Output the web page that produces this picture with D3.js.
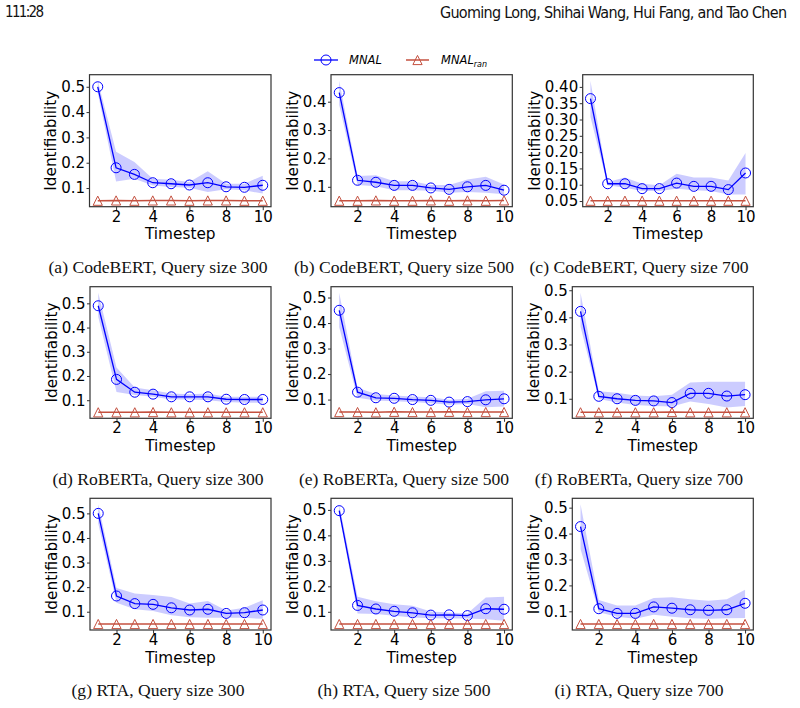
<!DOCTYPE html>
<html>
<head>
<meta charset="utf-8">
<script src="https://cdn.jsdelivr.net/npm/d3@7"></script>
<style>
  body { margin: 0; background: #fff; }
  svg { display: block; }
</style>
</head>
<body>
<div class="fig"></div>
<script>
// Data
const timesteps = [1, 2, 3, 4, 5, 6, 7, 8, 9, 10];

const captions = [
  "(a) CodeBERT, Query size 300", "(b) CodeBERT, Query size 500", "(c) CodeBERT, Query size 700",
  "(d) RoBERTa, Query size 300", "(e) RoBERTa, Query size 500", "(f) RoBERTa, Query size 700",
  "(g) RTA, Query size 300", "(h) RTA, Query size 500", "(i) RTA, Query size 700"
];

// MNAL mean per panel (a..i)
const mnalMean = [
  [0.500, 0.180, 0.154, 0.121, 0.117, 0.112, 0.121, 0.105, 0.103, 0.111],
  [0.432, 0.123, 0.116, 0.105, 0.105, 0.096, 0.091, 0.100, 0.105, 0.088],
  [0.364, 0.103, 0.103, 0.088, 0.088, 0.105, 0.095, 0.095, 0.085, 0.136],
  [0.490, 0.186, 0.133, 0.125, 0.114, 0.114, 0.114, 0.104, 0.103, 0.103],
  [0.450, 0.129, 0.107, 0.105, 0.100, 0.097, 0.090, 0.092, 0.099, 0.103],
  [0.422, 0.109, 0.100, 0.094, 0.092, 0.086, 0.120, 0.120, 0.110, 0.115],
  [0.500, 0.164, 0.133, 0.130, 0.116, 0.107, 0.110, 0.093, 0.096, 0.107],
  [0.497, 0.125, 0.111, 0.102, 0.096, 0.087, 0.088, 0.085, 0.112, 0.110],
  [0.427, 0.110, 0.092, 0.092, 0.117, 0.112, 0.106, 0.104, 0.106, 0.131]
];

// shaded band, lower edge
const mnalLow = [
  [0.476, 0.126, 0.137, 0.110, 0.104, 0.101, 0.084, 0.095, 0.091, 0.078],
  [0.388, 0.106, 0.102, 0.088, 0.088, 0.086, 0.079, 0.082, 0.079, 0.074],
  [0.308, 0.098, 0.091, 0.081, 0.081, 0.088, 0.083, 0.081, 0.070, 0.070],
  [0.445, 0.134, 0.121, 0.114, 0.103, 0.103, 0.100, 0.093, 0.090, 0.090],
  [0.383, 0.107, 0.096, 0.093, 0.090, 0.086, 0.080, 0.083, 0.070, 0.073],
  [0.365, 0.099, 0.086, 0.077, 0.073, 0.071, 0.090, 0.081, 0.068, 0.073],
  [0.459, 0.137, 0.110, 0.103, 0.086, 0.078, 0.075, 0.075, 0.075, 0.071],
  [0.483, 0.093, 0.091, 0.084, 0.078, 0.075, 0.074, 0.074, 0.071, 0.065],
  [0.340, 0.096, 0.079, 0.071, 0.087, 0.079, 0.073, 0.071, 0.073, 0.074]
];

// shaded band, upper edge
const mnalHigh = [
  [0.524, 0.243, 0.203, 0.137, 0.133, 0.124, 0.166, 0.117, 0.117, 0.149],
  [0.474, 0.138, 0.141, 0.120, 0.120, 0.106, 0.106, 0.126, 0.135, 0.108],
  [0.419, 0.108, 0.122, 0.103, 0.098, 0.134, 0.122, 0.122, 0.113, 0.197],
  [0.544, 0.235, 0.152, 0.141, 0.128, 0.125, 0.128, 0.114, 0.114, 0.114],
  [0.519, 0.146, 0.122, 0.116, 0.112, 0.109, 0.099, 0.103, 0.133, 0.135],
  [0.491, 0.128, 0.122, 0.112, 0.109, 0.115, 0.160, 0.163, 0.163, 0.163],
  [0.537, 0.196, 0.174, 0.168, 0.160, 0.133, 0.144, 0.105, 0.116, 0.147],
  [0.522, 0.159, 0.141, 0.130, 0.124, 0.101, 0.097, 0.093, 0.156, 0.159],
  [0.513, 0.144, 0.122, 0.122, 0.151, 0.154, 0.147, 0.141, 0.147, 0.183]
];

// MNAL_ran per panel
const mnalRan = [
  [0.050, 0.051, 0.050, 0.051, 0.051, 0.050, 0.051, 0.051, 0.050, 0.050],
  [0.051, 0.051, 0.052, 0.051, 0.051, 0.052, 0.051, 0.052, 0.051, 0.052],
  [0.051, 0.051, 0.051, 0.051, 0.051, 0.051, 0.051, 0.051, 0.051, 0.051],
  [0.050, 0.050, 0.050, 0.051, 0.050, 0.050, 0.050, 0.050, 0.050, 0.050],
  [0.051, 0.051, 0.050, 0.052, 0.051, 0.051, 0.052, 0.051, 0.051, 0.051],
  [0.050, 0.050, 0.050, 0.050, 0.050, 0.051, 0.050, 0.050, 0.050, 0.050],
  [0.050, 0.050, 0.050, 0.050, 0.050, 0.050, 0.050, 0.050, 0.050, 0.050],
  [0.052, 0.052, 0.052, 0.052, 0.052, 0.052, 0.052, 0.052, 0.052, 0.052],
  [0.051, 0.051, 0.051, 0.051, 0.051, 0.051, 0.051, 0.051, 0.051, 0.051]
];

const yTicks = [
  [0.1, 0.2, 0.3, 0.4, 0.5],
  [0.1, 0.2, 0.3, 0.4],
  [0.05, 0.10, 0.15, 0.20, 0.25, 0.30, 0.35, 0.40],
  [0.1, 0.2, 0.3, 0.4, 0.5],
  [0.1, 0.2, 0.3, 0.4, 0.5],
  [0.1, 0.2, 0.3, 0.4, 0.5],
  [0.1, 0.2, 0.3, 0.4, 0.5],
  [0.1, 0.2, 0.3, 0.4, 0.5],
  [0.1, 0.2, 0.3, 0.4, 0.5]
];
const yFormats = [".1f", ".1f", ".2f", ".1f", ".1f", ".1f", ".1f", ".1f", ".1f"];
const xTicks = [2, 4, 6, 8, 10];

// Layout
const W = 800, H = 708;
const rowTop = [74.7, 286.7, 498.3];
const rowBottom = [206.7, 418.3, 630];
const colRight = [271, 512.3, 753.3];
const panelLeft = [[89.5, 331, 582.7], [90, 331, 572.3], [90, 331, 572.3]];
const captionX = [158, 404, 639];
const captionY = [273, 485, 696];

const blue = "#0000ff";
const red = "#c4503f";
const tickFont = "'DejaVu Sans', sans-serif";

const svg = d3.select(".fig").append("svg")
  .attr("width", W)
  .attr("height", H);

// Running head
svg.append("text")
  .attr("x", 5).attr("y", 17)
  .attr("font-family", "'Liberation Sans Narrow', 'DejaVu Sans Condensed', sans-serif")
  .attr("font-size", 15)
  .attr("textLength", 39)
  .attr("fill", "#111")
  .text("111:28");

svg.append("text")
  .attr("x", 440).attr("y", 18)
  .attr("font-family", "'Liberation Sans Narrow', 'DejaVu Sans Condensed', sans-serif")
  .attr("font-size", 16)
  .attr("textLength", 347)
  .attr("fill", "#111")
  .text("Guoming Long, Shihai Wang, Hui Fang, and Tao Chen");

// Legend
const triPath = s => `M0,${-s}L${s},${s}L${-s},${s}Z`;
const legend = svg.append("g").attr("transform", "translate(0,60)");
legend.append("line").attr("x1", 314).attr("x2", 338).attr("stroke", blue).attr("stroke-width", 1.3);
legend.append("circle").attr("cx", 326).attr("r", 5).attr("fill", "none").attr("stroke", blue).attr("stroke-width", 1);
legend.append("text").attr("x", 349).attr("y", 4)
  .attr("font-family", tickFont).attr("font-style", "italic").attr("font-size", 11.5)
  .text("MNAL");
legend.append("line").attr("x1", 406).attr("x2", 429).attr("stroke", red).attr("stroke-width", 1.5);
legend.append("path").attr("d", triPath(4.6)).attr("transform", "translate(417.5,0)")
  .attr("fill", "none").attr("stroke", red).attr("stroke-width", 1);
const lt = legend.append("text").attr("x", 441).attr("y", 4)
  .attr("font-family", tickFont).attr("font-style", "italic").attr("font-size", 11.5);
lt.append("tspan").text("MNAL");
lt.append("tspan").attr("font-size", 8).attr("dy", 3).text("ran");

// Panels
for (let r = 0; r < 3; r++) {
  for (let c = 0; c < 3; c++) {
    const p = r * 3 + c;
    const left = panelLeft[r][c], right = colRight[c];
    const top = rowTop[r], bottom = rowBottom[r];

    const rows = timesteps.map((t, i) => ({
      t, mean: mnalMean[p][i], low: mnalLow[p][i], high: mnalHigh[p][i], ran: mnalRan[p][i]
    }));

    // matplotlib-like 5% margins
    const x = d3.scaleLinear().domain([1 - 0.45, 10 + 0.45]).range([left, right]);
    const ext = d3.extent(rows.flatMap(d => [d.low, d.high, d.ran]));
    const span = ext[1] - ext[0];
    const y = d3.scaleLinear()
      .domain([ext[0] - 0.05 * span, ext[1] + 0.05 * span])
      .range([bottom, top]);

    const g = svg.append("g");

    g.append("path")
      .datum(rows)
      .attr("fill", blue)
      .attr("fill-opacity", 0.2)
      .attr("d", d3.area().x(d => x(d.t)).y0(d => y(d.low)).y1(d => y(d.high)));

    g.append("path")
      .datum(rows)
      .attr("fill", "none")
      .attr("stroke", blue)
      .attr("stroke-width", 1.3)
      .attr("d", d3.line().x(d => x(d.t)).y(d => y(d.mean)));

    g.selectAll("circle.m")
      .data(rows)
      .join("circle")
      .attr("class", "m")
      .attr("cx", d => x(d.t))
      .attr("cy", d => y(d.mean))
      .attr("r", 5)
      .attr("fill", "none")
      .attr("stroke", blue)
      .attr("stroke-width", 1);

    g.append("path")
      .datum(rows)
      .attr("fill", "none")
      .attr("stroke", red)
      .attr("stroke-width", 1.5)
      .attr("d", d3.line().x(d => x(d.t)).y(d => y(d.ran)));

    g.selectAll("path.tri")
      .data(rows)
      .join("path")
      .attr("class", "tri")
      .attr("d", triPath(4.6))
      .attr("transform", d => `translate(${x(d.t)},${y(d.ran)})`)
      .attr("fill", "none")
      .attr("stroke", red)
      .attr("stroke-width", 1);

    // frame
    g.append("rect")
      .attr("x", left).attr("y", top)
      .attr("width", right - left).attr("height", bottom - top)
      .attr("fill", "none")
      .attr("stroke", "#333")
      .attr("stroke-width", 1.2);

    // x axis
    const xa = g.append("g")
      .attr("transform", `translate(0,${bottom})`)
      .call(d3.axisBottom(x).tickValues(xTicks).tickSize(3.5).tickPadding(1).tickSizeOuter(0));
    xa.select(".domain").remove();
    xa.selectAll("line").attr("stroke", "#333");
    xa.selectAll("text").attr("font-family", tickFont).attr("font-size", 15).attr("fill", "#000");

    // y axis
    const ya = g.append("g")
      .attr("transform", `translate(${left},0)`)
      .call(d3.axisLeft(y).tickValues(yTicks[p]).tickFormat(d3.format(yFormats[p])).tickSize(3).tickPadding(1.5).tickSizeOuter(0));
    ya.select(".domain").remove();
    ya.selectAll("line").attr("stroke", "#333");
    ya.selectAll("text").attr("font-family", tickFont).attr("font-size", 15).attr("fill", "#000");

    let maxW = 0;
    ya.selectAll("text").each(function () { maxW = Math.max(maxW, this.getComputedTextLength()); });

    const lx = left - 4.5 - maxW - 5;
    g.append("text")
      .attr("transform", `translate(${lx},${(top + bottom) / 2}) rotate(-90)`)
      .attr("text-anchor", "middle")
      .attr("font-family", tickFont)
      .attr("font-size", 15.3)
      .text("Identifiability");

    g.append("text")
      .attr("x", (left + right) / 2)
      .attr("y", bottom + 32.5)
      .attr("text-anchor", "middle")
      .attr("font-family", tickFont)
      .attr("font-size", 15.3)
      .text("Timestep");

    svg.append("text")
      .attr("x", captionX[c])
      .attr("y", captionY[r])
      .attr("text-anchor", "middle")
      .attr("font-family", "'Linux Libertine', 'Liberation Serif', serif")
      .attr("font-size", 17.6)
      .attr("fill", "#111")
      .text(captions[p]);
  }
}
</script>
</body>
</html>
